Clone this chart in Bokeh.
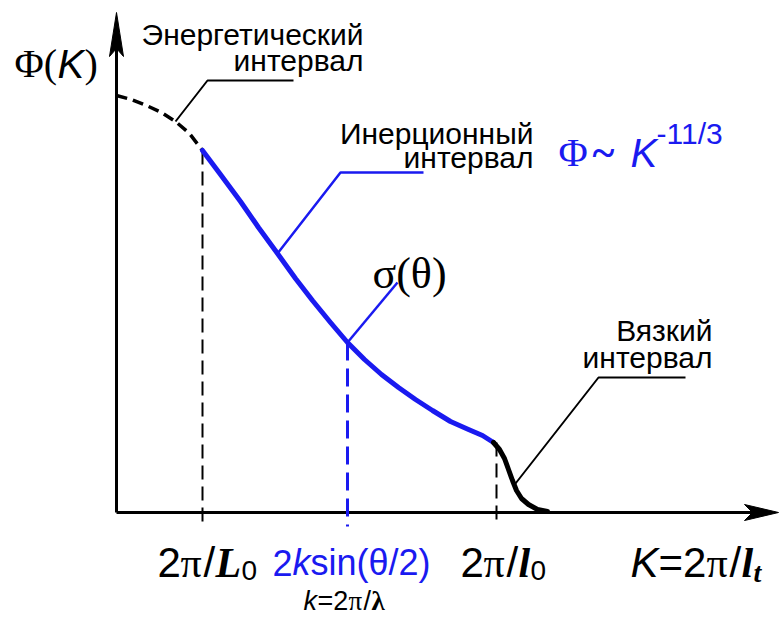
from bokeh.plotting import figure
from bokeh.models import Range1d
from bokeh.core.properties import value
from bokeh.embed import file_html
from bokeh.resources import INLINE

# Turbulence spectrum Φ(K), schematic units with the axis origin at (0, 0)
energy_k = [0, 15, 30, 45, 59, 73, 86]
energy_phi = [417, 413, 407, 400, 391, 379, 362]

inertial_k = [86, 104, 124, 142, 161, 179, 196, 214, 231, 248, 265, 282, 299, 316, 334, 352, 366, 377]
inertial_phi = [362, 338, 311, 285, 259, 234, 212, 190, 170, 153, 138, 125, 113, 102, 91, 83, 77, 70]

viscous_k = [377, 383, 388, 392, 396, 400, 405, 412, 421, 431]
viscous_phi = [70, 63, 54, 43, 32, 22, 14, 8, 3, 1]

# Marked wavenumbers: 2π/L0, 2k·sin(θ/2), 2π/l0
tick_k = [86, 231, 380]
tick_phi = [362, 170, 70]
tick_colors = ["black", "#1a1af0", "black"]

BLUE = "#1a1af0"
SANS = "Liberation Sans"
SERIF = "Liberation Serif"

p = figure(width=779, height=619, x_range=Range1d(-116, 663), y_range=Range1d(-107, 512),
           output_backend="svg", toolbar_location=None, min_border=0,
           x_axis_location=None, y_axis_location=None)
p.grid.visible = False
p.outline_line_color = None
p.background_fill_color = "white"
p.border_fill_color = "white"


def txt(x, y, s, font=SANS, size=30, style="normal", color="black", align="left"):
    p.text(x=[x], y=[y], text=[s], text_font=value(font), text_font_size=value(f"{size}px"),
           text_font_style=style, text_color=color, text_align=align, text_baseline="alphabetic")


# coordinate axes with arrowheads
p.line([0, 0], [0, 470], line_color="black", line_width=3)
p.patch([0, -7, 0, 7], [500, 456, 464, 456], fill_color="black", line_color="black", line_width=1)
p.line([0, 640], [0, 0], line_color="black", line_width=3)
p.patch([662, 628, 636, 628], [0, 8, 0, -8], fill_color="black", line_color="black", line_width=1)

# dashed drop lines to the marked wavenumbers
for k, ph, c in zip(tick_k, tick_phi, tick_colors):
    if c == "black":
        p.line([k, k], [ph, -14], line_color=c, line_width=2, line_dash="14 7")
    else:
        p.line([k, k], [ph, -14], line_color=c, line_width=3, line_dash="18 8")

# spectrum segments
p.line(energy_k, energy_phi, line_color="black", line_width=3.5, line_dash="11 6")
p.line(inertial_k, inertial_phi, line_color=BLUE, line_width=5, line_join="round", line_cap="round")
p.line(viscous_k, viscous_phi, line_color="black", line_width=5, line_join="round", line_cap="round")

# leader lines
p.line([59, 91, 177], [391, 432, 432], line_color="black", line_width=2)
p.line([161, 224, 307], [259, 340, 340], line_color=BLUE, line_width=2.5)
p.line([231, 281], [170, 230], line_color=BLUE, line_width=2.5)
p.line([399, 482, 569], [29, 135, 135], line_color="black", line_width=2)

# axis title Φ(K)
txt(-102, 449, "Φ(", font=SERIF, size=40)
txt(-59, 449, "K", size=40, style="italic")
txt(-32, 449, ")", font=SERIF, size=40)

# interval names
txt(247, 478, "Энергетический", align="right")
txt(247, 452, "интервал", align="right")
txt(417, 379, "Инерционный", align="right")
txt(417, 355, "интервал", align="right")
txt(596, 182, "Вязкий", align="right")
txt(596, 155, "интервал", align="right")

# power law
txt(442, 360, "Φ", font=SERIF, size=40, color=BLUE)
txt(476, 360, "~", font=SERIF, size=42, style="bold", color=BLUE)
txt(514, 360, "K", size=40, style="italic", color=BLUE)
txt(540, 379, "-11/3", size=30, color=BLUE)

# scattering cross-section
txt(256, 239, "σ(θ)", font=SERIF, size=44)

# labels under the K axis
txt(41, -50, "2", size=42)
txt(64, -50, "π", font=SERIF, size=42)
txt(87, -50, "/", size=42)
txt(99, -50, "L", font=SERIF, size=42, style="bold italic")
txt(125, -58, "0", size=28)

txt(156, -50, "2", size=36, color=BLUE)
txt(176, -50, "k", size=36, style="italic", color=BLUE)
txt(194, -50, "sin(θ/2)", size=36, color=BLUE)

txt(344, -50, "2", size=42)
txt(367, -50, "π", font=SERIF, size=42)
txt(390, -50, "/", size=42)
txt(402, -50, "l", font=SERIF, size=42, style="bold italic")
txt(414, -58, "0", size=28)

txt(514, -50, "K", size=42, style="italic")
txt(542, -50, "=2", size=42)
txt(590, -50, "π", font=SERIF, size=42)
txt(613, -50, "/", size=42)
txt(625, -50, "l", font=SERIF, size=42, style="bold italic")
txt(637, -60, "t", font=SERIF, size=28, style="bold italic")

txt(187, -88, "k", size=27, style="italic")
txt(201, -88, "=2", size=27)
txt(232, -88, "π", font=SERIF, size=27)
txt(247, -88, "/", size=27)
txt(255, -88, "λ", font=SERIF, size=27, style="bold")

open("out.html", "w").write(file_html(p, INLINE))
